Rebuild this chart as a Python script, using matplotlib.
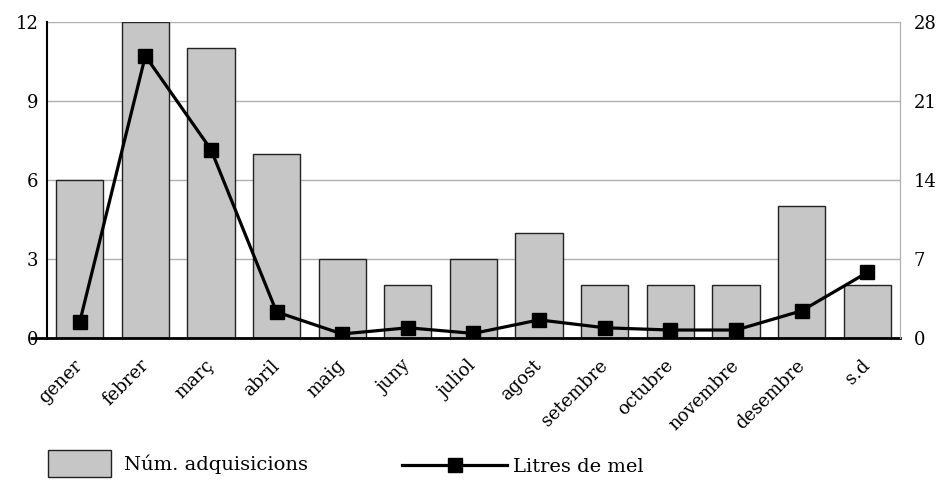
import numpy as np
import matplotlib
matplotlib.use("Agg")
import matplotlib.pyplot as plt

# Dades llegides del gràfic
mesos = ["gener", "febrer", "març", "abril", "maig", "juny", "juliol",
         "agost", "setembre", "octubre", "novembre", "desembre", "s.d"]
adquisicions = [6, 12, 11, 7, 3, 2, 3, 4, 2, 2, 2, 5, 2]
litres_mel = [1.4, 25, 16.7, 2.3, 0.35, 0.9, 0.4, 1.6, 0.9, 0.7, 0.7, 2.4, 5.8]

plt.rcParams['font.family'] = ['DejaVu Serif']
plt.rcParams['font.size'] = 13

fig = plt.figure(figsize=(9.38, 4.8), dpi=100)
ax = fig.add_axes([0.050, 0.296, 0.9095, 0.658])

x = np.arange(len(mesos))
barres = ax.bar(x, adquisicions, width=0.72, color='#c6c6c6',
                edgecolor='#222222', linewidth=1, label='Núm. adquisicions', zorder=2)

ax.set_xlim(-0.5, len(mesos) - 0.5)
ax.set_ylim(0, 12)
ax.set_yticks([0, 3, 6, 9, 12])
ax.yaxis.grid(True, color='#b0b0b0', linewidth=1)
ax.set_axisbelow(True)
ax.tick_params(axis='y', length=0, pad=6)
# petit tros de l'eix inferior que sobresurt a l'esquerra
t0 = ax.yaxis.get_major_ticks()[0]
t0.tick1line.set_markersize(12)
t0.tick1line.set_markeredgewidth(2)
t0.tick1line.set_color('black')
ax.tick_params(axis='x', length=4, direction='in', color='#aaaaaa', pad=18)
ax.set_xticks(x)
ax.set_xticklabels(mesos, rotation=45, ha='right', va='center',
                   rotation_mode='anchor')

ax.spines['top'].set_visible(False)
ax.spines['right'].set_color('#b0b0b0')
ax.spines['left'].set_linewidth(1.5)
ax.spines['bottom'].set_linewidth(2)

ax2 = ax.twinx()
linia, = ax2.plot(x, litres_mel, color='black', linewidth=2.3, marker='s',
                  markersize=10, label='Litres de mel', zorder=3)
ax2.set_ylim(0, 28)
ax2.set_yticks([0, 7, 14, 21, 28])
ax2.tick_params(axis='y', length=0, pad=10)
for s in ['top', 'left', 'bottom']:
    ax2.spines[s].set_visible(False)
ax2.spines['right'].set_color('#b0b0b0')

# Llegendes separades per poder donar mides diferents als símbols
fig.legend(handles=[barres], loc='lower left', bbox_to_anchor=(0.033, -0.03),
           frameon=False, fontsize=14, handlelength=3.2, handleheight=1.75,
           handletextpad=0.7)
fig.legend(handles=[linia], loc='lower left', bbox_to_anchor=(0.41, -0.028),
           frameon=False, fontsize=14, handlelength=5.4, handletextpad=0.3)

fig.savefig("out.png", dpi=100)
